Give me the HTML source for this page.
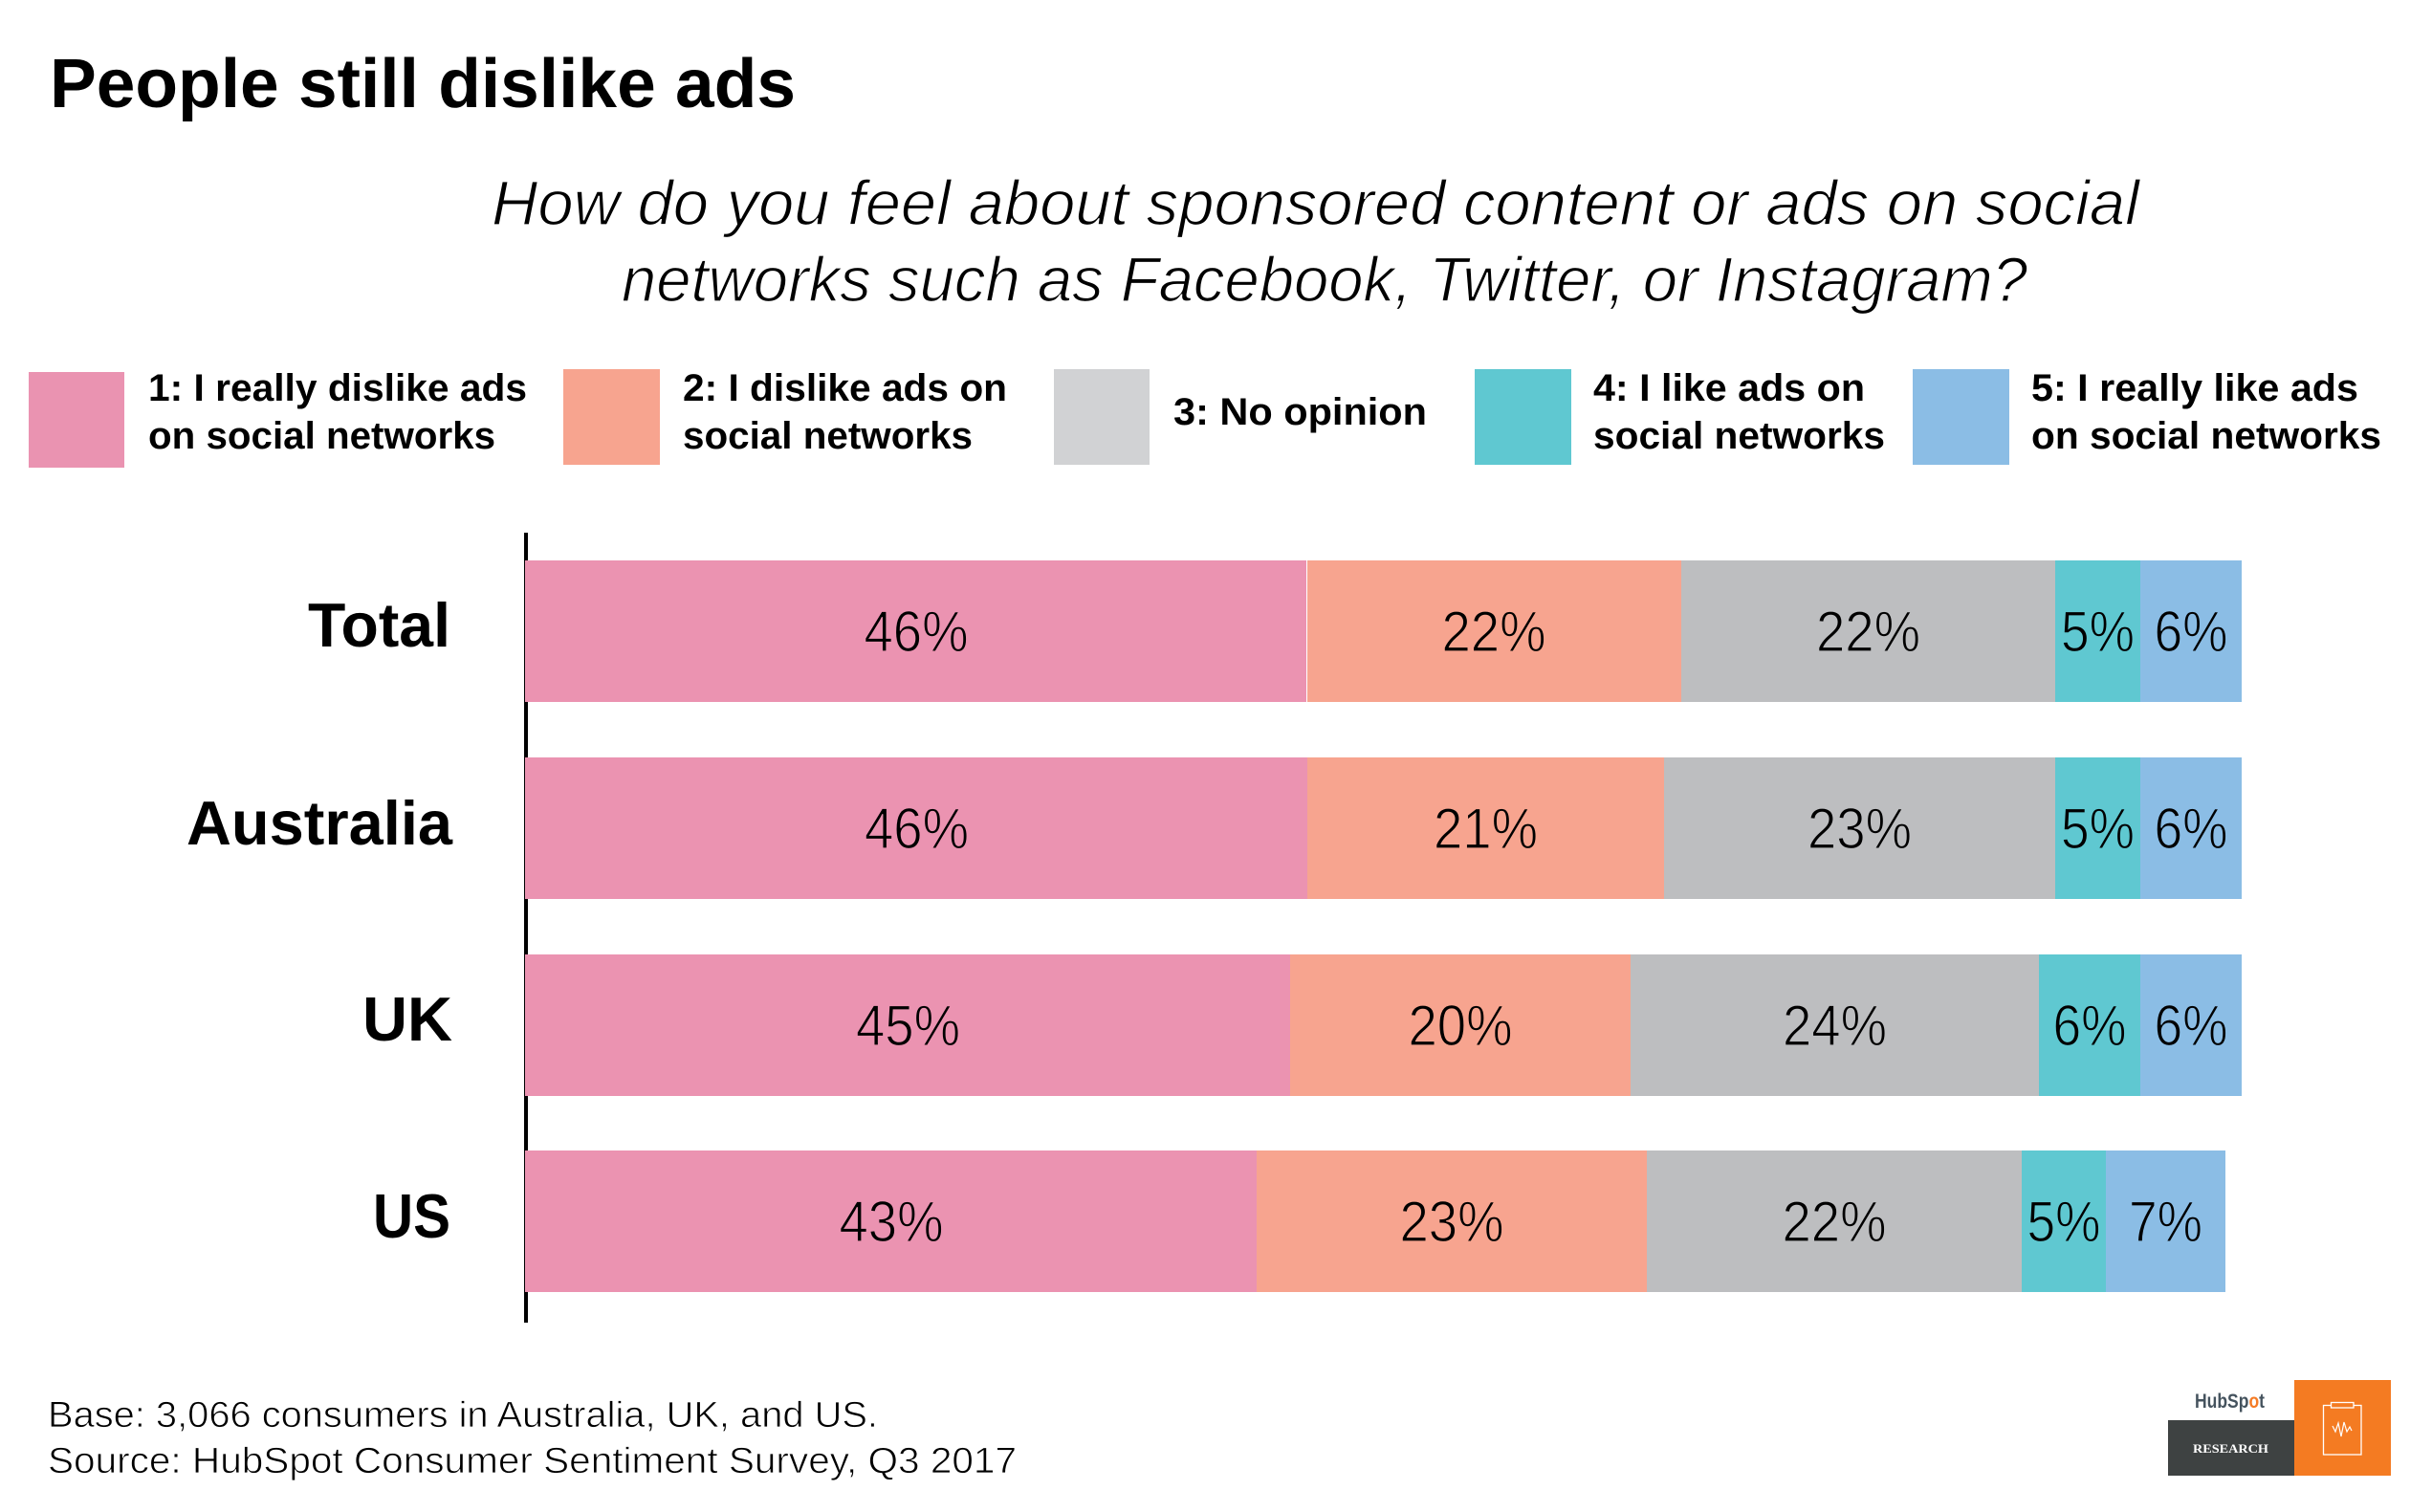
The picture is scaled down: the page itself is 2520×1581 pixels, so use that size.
<!DOCTYPE html>
<html>
<head>
<meta charset="utf-8">
<style>
html,body{margin:0;padding:0;background:#fff;}
svg{display:block;}
</style>
</head>
<body>
<svg width="2520" height="1581" viewBox="0 0 2520 1581" xmlns="http://www.w3.org/2000/svg">
<rect x="0" y="0" width="2520" height="1581" fill="#ffffff"/>

<!-- Title -->
<text x="52" y="112" font-family="Liberation Sans, sans-serif" font-weight="bold" font-size="72" fill="#000" textLength="780" lengthAdjust="spacingAndGlyphs">People still dislike ads</text>

<!-- Subtitle -->
<g font-family="Liberation Sans, sans-serif" font-style="italic" font-size="66" fill="#000" stroke="#fff" stroke-width="1.3">
<text x="514" y="235" textLength="1723" lengthAdjust="spacingAndGlyphs">How do you feel about sponsored content or ads on social</text>
<text x="650" y="315" textLength="1470" lengthAdjust="spacingAndGlyphs">networks such as Facebook, Twitter, or Instagram?</text>
</g>

<!-- Legend -->
<rect x="30" y="389" width="100" height="100" fill="#EA93B1"/>
<rect x="589" y="386" width="101" height="100" fill="#F7A48F"/>
<rect x="1102" y="386" width="100" height="100" fill="#D1D2D4"/>
<rect x="1542" y="386" width="101" height="100" fill="#5FC8D1"/>
<rect x="2000" y="386" width="101" height="100" fill="#8BBDE5"/>
<g font-family="Liberation Sans, sans-serif" font-weight="bold" font-size="40" fill="#000">
<text x="155" y="419" textLength="396" lengthAdjust="spacingAndGlyphs">1: I really dislike ads</text>
<text x="155" y="469" textLength="363" lengthAdjust="spacingAndGlyphs">on social networks</text>
<text x="714" y="419" textLength="339" lengthAdjust="spacingAndGlyphs">2: I dislike ads on</text>
<text x="714" y="469" textLength="303" lengthAdjust="spacingAndGlyphs">social networks</text>
<text x="1227" y="444" textLength="265" lengthAdjust="spacingAndGlyphs">3: No opinion</text>
<text x="1666" y="419" textLength="284" lengthAdjust="spacingAndGlyphs">4: I like ads on</text>
<text x="1666" y="469" textLength="305" lengthAdjust="spacingAndGlyphs">social networks</text>
<text x="2124" y="419" textLength="342" lengthAdjust="spacingAndGlyphs">5: I really like ads</text>
<text x="2124" y="469" textLength="366" lengthAdjust="spacingAndGlyphs">on social networks</text>
</g>

<!-- Axis -->
<rect x="548" y="557" width="4" height="826" fill="#000"/>

<!-- Bars: Total -->
<rect x="549" y="586" width="817" height="148" fill="#EB93B1"/>
<rect x="1367" y="586" width="391" height="148" fill="#F7A48F"/>
<rect x="1758" y="586" width="391" height="148" fill="#BDBEC0"/>
<rect x="2149" y="586" width="89" height="148" fill="#5FC8D1"/>
<rect x="2238" y="586" width="106" height="148" fill="#8BBDE5"/>
<!-- Australia -->
<rect x="549" y="792" width="818" height="148" fill="#EB93B1"/>
<rect x="1367" y="792" width="373" height="148" fill="#F7A48F"/>
<rect x="1740" y="792" width="409" height="148" fill="#BDBEC0"/>
<rect x="2149" y="792" width="89" height="148" fill="#5FC8D1"/>
<rect x="2238" y="792" width="106" height="148" fill="#8BBDE5"/>
<!-- UK -->
<rect x="549" y="998" width="800" height="148" fill="#EB93B1"/>
<rect x="1349" y="998" width="356" height="148" fill="#F7A48F"/>
<rect x="1705" y="998" width="427" height="148" fill="#BDBEC0"/>
<rect x="2132" y="998" width="106" height="148" fill="#5FC8D1"/>
<rect x="2238" y="998" width="106" height="148" fill="#8BBDE5"/>
<!-- US -->
<rect x="549" y="1203" width="765" height="148" fill="#EB93B1"/>
<rect x="1314" y="1203" width="408" height="148" fill="#F7A48F"/>
<rect x="1722" y="1203" width="392" height="148" fill="#BDBEC0"/>
<rect x="2114" y="1203" width="88" height="148" fill="#5FC8D1"/>
<rect x="2202" y="1203" width="125" height="148" fill="#8BBDE5"/>

<!-- Category labels -->
<g font-family="Liberation Sans, sans-serif" font-weight="bold" font-size="65" fill="#000">
<text x="322" y="676" textLength="149" lengthAdjust="spacingAndGlyphs">Total</text>
<text x="195" y="883" textLength="278" lengthAdjust="spacingAndGlyphs">Australia</text>
<text x="379" y="1088" textLength="94" lengthAdjust="spacingAndGlyphs">UK</text>
<text x="390" y="1294" textLength="81" lengthAdjust="spacingAndGlyphs">US</text>
</g>

<!-- Percent labels -->
<g font-family="Liberation Sans, sans-serif" font-size="60" fill="#000" stroke-width="1.2">
<!-- Total -->
<text x="903.5" y="681" textLength="109" lengthAdjust="spacingAndGlyphs" stroke="#EB93B1">46%</text>
<text x="1507.5" y="681" textLength="109" lengthAdjust="spacingAndGlyphs" stroke="#F7A48F">22%</text>
<text x="1899" y="681" textLength="109" lengthAdjust="spacingAndGlyphs" stroke="#BDBEC0">22%</text>
<text x="2155" y="681" textLength="77" lengthAdjust="spacingAndGlyphs" stroke="#5FC8D1">5%</text>
<text x="2252.5" y="681" textLength="77" lengthAdjust="spacingAndGlyphs" stroke="#8BBDE5">6%</text>
<!-- Australia -->
<text x="904" y="887" textLength="109" lengthAdjust="spacingAndGlyphs" stroke="#EB93B1">46%</text>
<text x="1499" y="887" textLength="109" lengthAdjust="spacingAndGlyphs" stroke="#F7A48F">21%</text>
<text x="1890" y="887" textLength="109" lengthAdjust="spacingAndGlyphs" stroke="#BDBEC0">23%</text>
<text x="2155" y="887" textLength="77" lengthAdjust="spacingAndGlyphs" stroke="#5FC8D1">5%</text>
<text x="2252.5" y="887" textLength="77" lengthAdjust="spacingAndGlyphs" stroke="#8BBDE5">6%</text>
<!-- UK -->
<text x="895" y="1093" textLength="109" lengthAdjust="spacingAndGlyphs" stroke="#EB93B1">45%</text>
<text x="1472.5" y="1093" textLength="109" lengthAdjust="spacingAndGlyphs" stroke="#F7A48F">20%</text>
<text x="1864" y="1093" textLength="109" lengthAdjust="spacingAndGlyphs" stroke="#BDBEC0">24%</text>
<text x="2146.5" y="1093" textLength="77" lengthAdjust="spacingAndGlyphs" stroke="#5FC8D1">6%</text>
<text x="2252.5" y="1093" textLength="77" lengthAdjust="spacingAndGlyphs" stroke="#8BBDE5">6%</text>
<!-- US -->
<text x="877.5" y="1298" textLength="109" lengthAdjust="spacingAndGlyphs" stroke="#EB93B1">43%</text>
<text x="1463.5" y="1298" textLength="109" lengthAdjust="spacingAndGlyphs" stroke="#F7A48F">23%</text>
<text x="1863.5" y="1298" textLength="109" lengthAdjust="spacingAndGlyphs" stroke="#BDBEC0">22%</text>
<text x="2119.5" y="1298" textLength="77" lengthAdjust="spacingAndGlyphs" stroke="#5FC8D1">5%</text>
<text x="2226" y="1298" textLength="77" lengthAdjust="spacingAndGlyphs" stroke="#8BBDE5">7%</text>
</g>

<!-- Footer -->
<g font-family="Liberation Sans, sans-serif" font-size="38" fill="#000" stroke="#fff" stroke-width="0.8">
<text x="50" y="1492" textLength="868" lengthAdjust="spacingAndGlyphs">Base: 3,066 consumers in Australia, UK, and US.</text>
<text x="50" y="1540" textLength="1013" lengthAdjust="spacingAndGlyphs">Source: HubSpot Consumer Sentiment Survey, Q3 2017</text>
</g>

<!-- HubSpot Research logo -->
<text x="2295" y="1472" font-family="Liberation Sans, sans-serif" font-weight="bold" font-size="21" fill="#45535E" textLength="73" lengthAdjust="spacingAndGlyphs">HubSp<tspan fill="#F57B25">o</tspan>t</text>
<rect x="2267" y="1485" width="132" height="58" fill="#3E4242"/>
<text x="2293" y="1519" font-family="Liberation Serif, serif" font-weight="bold" font-size="13" fill="#fff" textLength="79" lengthAdjust="spacingAndGlyphs">RESEARCH</text>
<rect x="2399" y="1443" width="101" height="100" fill="#F47B22"/>
<rect x="2429.5" y="1469.5" width="39.5" height="51.5" fill="none" stroke="#fff" stroke-width="1.3"/>
<rect x="2437.5" y="1466.5" width="23.5" height="5.5" fill="#F47B22" stroke="#fff" stroke-width="1.3"/>
<polyline points="2439,1491 2442,1497 2445,1488 2448,1502 2451,1487 2454,1497 2457,1492 2459,1496" fill="none" stroke="#fff" stroke-width="1.2"/>
</svg>
</body>
</html>
